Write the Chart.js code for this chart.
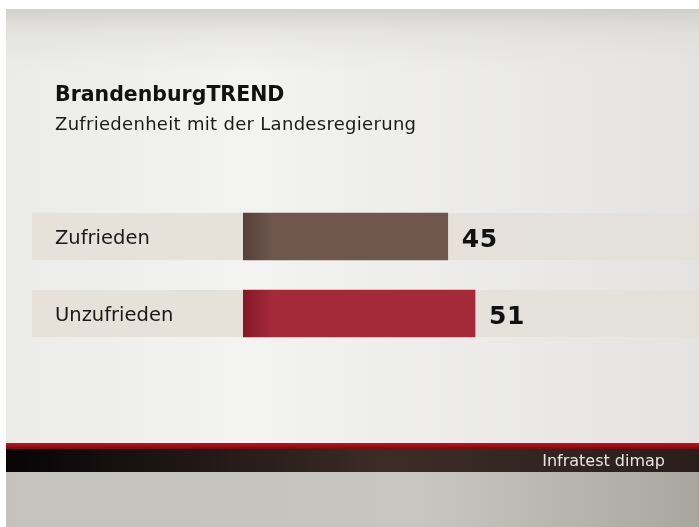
<!DOCTYPE html>
<html>
<head>
<meta charset="utf-8">
<script src="https://cdn.jsdelivr.net/npm/chart.js@4/dist/chart.umd.min.js"></script>
<style>
  html, body { margin: 0; padding: 0; background: #fff; }
  #wrap { width: 699px; height: 527px; position: relative; }
</style>
</head>
<body>
<div id="wrap"><canvas id="chart" width="699" height="527"></canvas></div>
<script>
const categories = ["Zufrieden", "Unzufrieden"];
const values = [45, 51];
const barColors = [["#54403a", "#6f574d"], ["#861826", "#a42a3a"]];
const title = "BrandenburgTREND";
const subtitle = "Zufriedenheit mit der Landesregierung";
const source = "Infratest dimap";

const FONT = "'DejaVu Sans', sans-serif";

// background, label bands, footer, texts
const backdrop = {
  id: "backdrop",
  beforeDraw(chart) {
    const { ctx, width, height } = chart;
    ctx.save();
    ctx.fillStyle = "#fff";
    ctx.fillRect(0, 0, width, height);

    let g = ctx.createLinearGradient(6, 0, width, 0);
    g.addColorStop(0, "#ebebea");
    g.addColorStop(0.35, "#f3f3f2");
    g.addColorStop(1, "#e4e3e1");
    ctx.fillStyle = g;
    ctx.fillRect(6, 9, width - 6, 443 - 9);

    // top darker stripe
    g = ctx.createLinearGradient(0, 9, 0, 75);
    g.addColorStop(0, "rgba(205,203,199,0.85)");
    g.addColorStop(0.35, "rgba(218,217,214,0.5)");
    g.addColorStop(1, "rgba(230,230,228,0)");
    ctx.fillStyle = g;
    ctx.fillRect(6, 9, width - 6, 66);

    // label bands
    const y = chart.scales.y;
    categories.forEach((c, i) => {
      const cy = y.getPixelForValue(i);
      const bg = ctx.createLinearGradient(32, 0, width, 0);
      bg.addColorStop(0, "#e7e1d9");
      bg.addColorStop(1, "#e4e1db");
      ctx.fillStyle = bg;
      ctx.fillRect(32, cy - 23.5, width - 32, 47);
    });

    // footer
    g = ctx.createLinearGradient(0, 443, 0, 449);
    g.addColorStop(0, "#c8101c");
    g.addColorStop(1, "#7a0810");
    ctx.fillStyle = g;
    ctx.fillRect(6, 443, width - 6, 6);
    g = ctx.createLinearGradient(6, 0, width, 0);
    g.addColorStop(0, "#070404");
    g.addColorStop(0.55, "#3b2c26");
    g.addColorStop(1, "#2a1f1b");
    ctx.fillStyle = g;
    ctx.fillRect(6, 449, width - 6, 23);
    g = ctx.createLinearGradient(6, 0, width, 0);
    g.addColorStop(0, "#c4c2bc");
    g.addColorStop(0.6, "#c8c6c0");
    g.addColorStop(1, "#a9a69e");
    ctx.fillStyle = g;
    ctx.fillRect(6, 472, width - 6, height - 472);

    // titles
    ctx.textBaseline = "alphabetic";
    ctx.textAlign = "left";
    ctx.fillStyle = "#111";
    ctx.font = "bold 20.5px " + FONT;
    ctx.fillText(title, 55, 101);
    ctx.fillStyle = "#1a1a1a";
    ctx.font = "18px " + FONT;
    ctx.letterSpacing = "0.3px";
    ctx.fillText(subtitle, 55, 130);
    ctx.letterSpacing = "0px";

    ctx.fillStyle = "#e6e6e6";
    ctx.font = "16px " + FONT;
    ctx.textAlign = "right";
    ctx.fillText(source, 665, 466);
    ctx.restore();
  },
  afterDatasetsDraw(chart) {
    const { ctx } = chart;
    const y = chart.scales.y;
    const meta = chart.getDatasetMeta(0);
    ctx.save();
    ctx.textBaseline = "alphabetic";
    ctx.textAlign = "left";
    categories.forEach((c, i) => {
      const cy = y.getPixelForValue(i);
      ctx.fillStyle = "#1a1a1a";
      ctx.font = "19.5px " + FONT;
      ctx.fillText(c, 55, cy + 7);
      ctx.fillStyle = "#111";
      ctx.font = "bold 25px " + FONT;
      ctx.letterSpacing = "0.5px";
      ctx.fillText(String(values[i]), meta.data[i].x + 14, cy + 10);
      ctx.letterSpacing = "0px";
    });
    ctx.restore();
  }
};

new Chart(document.getElementById("chart"), {
  type: "bar",
  data: {
    labels: categories,
    datasets: [{
      data: values,
      backgroundColor: (ctx) => {
        const area = ctx.chart.chartArea;
        if (!area) return barColors[ctx.dataIndex][1];
        const cols = barColors[ctx.dataIndex];
        const g = ctx.chart.ctx.createLinearGradient(area.left, 0, area.left + 30, 0);
        g.addColorStop(0, cols[0]);
        g.addColorStop(1, cols[1]);
        return g;
      },
      borderWidth: 0,
      barThickness: 47
    }]
  },
  options: {
    indexAxis: "y",
    responsive: false,
    animation: false,
    layout: { padding: { left: 243, right: 1, top: 198, bottom: 175 } },
    plugins: { legend: { display: false }, tooltip: { enabled: false } },
    scales: {
      x: { display: false, min: 0, max: 100 },
      y: { display: false }
    }
  },
  plugins: [backdrop]
});
</script>
</body>
</html>
